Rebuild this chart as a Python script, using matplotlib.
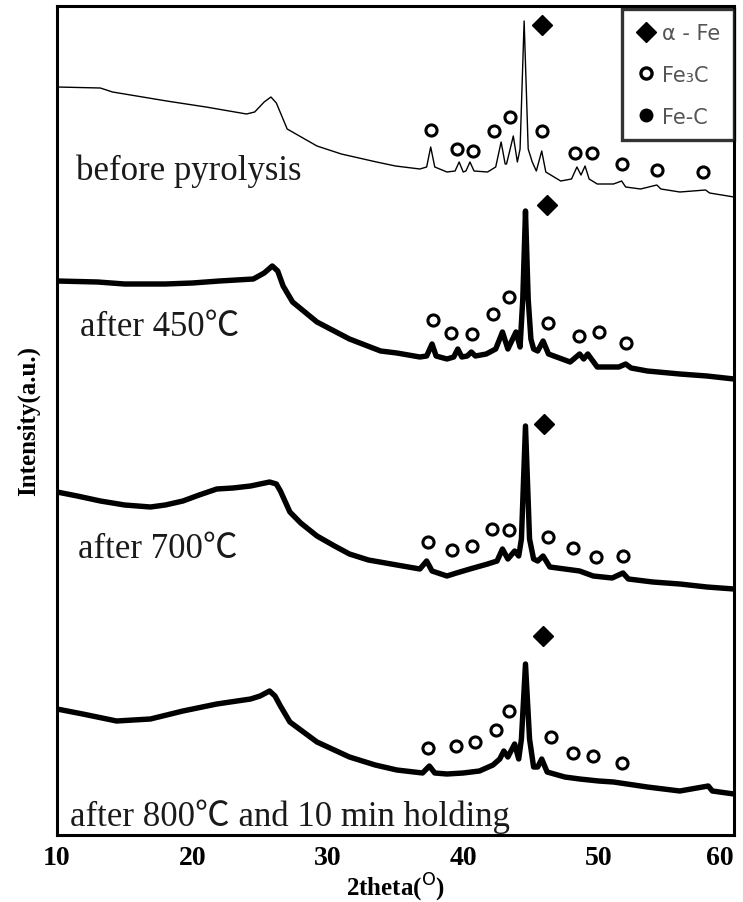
import matplotlib
matplotlib.use("Agg")
import matplotlib.pyplot as plt
from matplotlib.lines import Line2D

# XRD patterns, y values are offset intensities (a.u.)
two_theta_before = [10.0, 13.2, 14.1, 18.1, 21.0, 24.0, 24.6, 25.3, 25.8, 26.2, 27.0, 29.2,
                    31.0, 33.6, 35.0, 36.8, 37.3, 37.6, 37.9, 38.8, 39.4, 39.7, 40.0, 40.2,
                    40.5, 40.8, 41.8, 42.4, 42.8, 43.1, 43.2, 43.7, 44.0, 44.2, 44.5, 44.8,
                    45.1, 45.4, 45.8, 46.1, 47.2, 48.0, 48.4, 48.7, 49.0, 49.3, 49.9, 51.1,
                    51.7, 52.0, 53.1, 54.3, 54.6, 56.0, 57.9, 58.2, 60.0]
px_before = [88, 89, 93, 102, 108, 115, 113, 103, 98, 104, 130, 147,
             155, 163, 167, 170, 168, 148, 168, 173, 172, 163, 173, 172,
             163, 172, 173, 168, 143, 165, 165, 137, 163, 150, 22, 150,
             163, 172, 152, 173, 182, 180, 168, 176, 167, 180, 185, 185,
             182, 188, 190, 186, 190, 193, 191, 194, 198]

two_theta_450 = [10.0, 13.0, 15.0, 18.0, 20.0, 22.0, 24.5, 25.3, 25.9, 26.3, 26.7, 27.4,
                 29.2, 31.6, 33.9, 35.1, 36.8, 37.3, 37.7, 38.0, 38.8, 39.3, 39.6, 39.9,
                 40.3, 40.6, 40.9, 41.7, 42.4, 42.9, 43.3, 43.9, 44.2, 44.4, 44.6, 44.8,
                 45.0, 45.2, 45.5, 45.9, 46.3, 47.9, 48.6, 48.9, 49.2, 49.9, 51.5, 52.0,
                 52.4, 53.6, 56.0, 58.0, 60.0]
px_450 = [282, 283, 285, 285, 284, 282, 280, 274, 267, 272, 287, 303,
          323, 340, 352, 354, 358, 357, 345, 357, 360, 358, 350, 358,
          357, 353, 357, 355, 350, 333, 350, 333, 348, 300, 212, 300,
          340, 350, 352, 342, 355, 363, 355, 360, 355, 368, 368, 365,
          369, 372, 375, 377, 380]

two_theta_700 = [10.0, 11.5, 13.2, 15.0, 16.9, 18.0, 19.3, 20.5, 21.8, 23.0, 24.3, 25.0,
                 25.7, 26.2, 26.5, 27.2, 28.0, 29.2, 30.5, 31.6, 33.0, 35.1, 36.8, 37.3,
                 37.7, 38.8, 39.5, 40.5, 41.8, 42.5, 42.9, 43.3, 43.8, 44.1, 44.3, 44.6,
                 44.9, 45.2, 45.5, 45.9, 46.4, 47.5, 48.6, 49.6, 51.0, 51.8, 52.2, 54.0,
                 56.0, 58.0, 60.0]
px_700 = [493, 497, 502, 506, 508, 506, 502, 496, 490, 489, 487, 485,
          483, 485, 492, 513, 524, 537, 547, 555, 561, 566, 570, 562,
          572, 577, 574, 570, 565, 562, 550, 560, 552, 557, 540, 427,
          540, 560, 562, 557, 568, 570, 572, 577, 579, 574, 580, 583,
          585, 588, 590]

two_theta_800 = [10.0, 11.9, 14.4, 16.9, 19.3, 21.8, 24.3, 25.0, 25.7, 26.1, 26.5, 27.2,
                 29.2, 31.6, 33.5, 35.1, 37.0, 37.5, 37.9, 38.8, 40.0, 41.2, 42.2, 42.7,
                 43.0, 43.3, 43.8, 44.1, 44.3, 44.6, 44.9, 45.2, 45.5, 45.8, 46.2, 47.5,
                 48.6, 50.0, 51.1, 53.6, 56.0, 58.1, 58.4, 60.0]
px_800 = [710, 715, 722, 720, 712, 705, 700, 697, 692, 697, 707, 723,
          743, 758, 766, 771, 774, 767, 774, 775, 774, 772, 766, 760,
          752, 758, 745, 760, 740, 665, 740, 768, 768, 760, 773, 778,
          780, 782, 783, 788, 792, 787, 792, 795]

# phase markers: (2theta, height)
fe_peaks = [(45.82, 26), (46.19, 206), (45.97, 425), (45.89, 637)]
fe3c_before = [(37.62, 131), (39.54, 150), (40.72, 152), (42.27, 132), (43.46, 118),
               (45.82, 132), (48.26, 154), (49.51, 154), (51.73, 165), (54.31, 171),
               (57.71, 173)]
fe3c_450 = [(37.77, 321), (39.10, 334), (40.65, 335), (42.20, 315), (43.38, 298),
            (46.26, 324), (48.55, 337), (50.03, 333), (52.02, 344)]
fe3c_700 = [(37.40, 543), (39.17, 551), (40.65, 547), (42.13, 530), (43.38, 531),
            (46.26, 538), (48.11, 549), (49.81, 558), (51.80, 557)]
fe3c_800 = [(37.40, 749), (39.47, 747), (40.87, 743), (42.42, 731), (43.38, 712),
            (46.48, 738), (48.11, 754), (49.59, 757), (51.73, 764)]

labels = ["before pyrolysis", "after 450℃", "after 700℃", "after 800℃ and 10 min holding"]
label_pos = [(11.4, 180), (11.7, 336), (11.55, 558), (10.96, 826)]

TOP = 836  # picture row of the baseline, used to turn rows into intensity


def to_int(rows):
    return [TOP - r for r in rows]


fig = plt.figure(figsize=(7.43, 9.03), dpi=100)
ax = fig.add_axes([57 / 743, (903 - 836) / 903, 677 / 743, 829 / 903])

ax.plot(two_theta_before, to_int(px_before), color="black", lw=1.0)
for tt, rows in [(two_theta_450, px_450), (two_theta_700, px_700), (two_theta_800, px_800)]:
    ax.plot(tt, to_int(rows), color="black", lw=3.9, solid_joinstyle="round")

for pts in [fe3c_before, fe3c_450, fe3c_700, fe3c_800]:
    xs = [p[0] for p in pts]
    ys = to_int([p[1] for p in pts])
    ax.plot(xs, ys, "o", ms=8, mfc="white", mec="black", mew=2.2, ls="none")
ax.plot([p[0] for p in fe_peaks], to_int([p[1] for p in fe_peaks]), "D",
        ms=10, color="black", ls="none")

txt_fam = ["Liberation Serif", "Noto Sans CJK JP", "DejaVu Sans"]
for lab, (x, r) in zip(labels, label_pos):
    ax.text(x, TOP - r, lab, fontsize=25, family=txt_fam, color="#1a1a1a",
            va="baseline", ha="left")

ax.set_xlim(10, 60)
ax.set_ylim(0, 829)
ax.set_xticks([10, 20, 30, 40, 50, 60])
ax.set_yticks([])
ax.tick_params(axis="x", length=0, pad=7)
ticklabs = ax.get_xticklabels()
for lab in ticklabs:
    lab.set_fontfamily("Liberation Serif")
    lab.set_fontweight("bold")
    lab.set_fontsize(20)
ticklabs[-1].set_horizontalalignment("right")
for s in ax.spines.values():
    s.set_linewidth(2.2)

ax.set_xlabel("2theta($^{\\rm O}$)", family="Liberation Serif", fontweight="bold",
              fontsize=18, labelpad=1)
ax.set_ylabel("Intensity(a.u.)", family="Liberation Serif", fontweight="bold",
              fontsize=18, labelpad=12)

handles = [
    Line2D([], [], marker="D", color="black", ls="none", ms=10),
    Line2D([], [], marker="o", mfc="white", mec="black", mew=2.4, ls="none", ms=8),
    Line2D([], [], marker="o", color="black", ls="none", ms=9),
]
leg = ax.legend(handles, ["α - Fe", "Fe₃C", "Fe-C"], loc="upper right",
                bbox_to_anchor=(1.0, 0.996), borderaxespad=0, frameon=True,
                fancybox=False, handletextpad=0.3, handlelength=1.0,
                labelspacing=1.05, borderpad=0.65,
                prop={"family": "DejaVu Sans", "size": 15})
leg.get_frame().set_edgecolor("black")
leg.get_frame().set_linewidth(2.4)
for t in leg.get_texts():
    t.set_color("#555555")

fig.savefig("out.png", dpi=100)
